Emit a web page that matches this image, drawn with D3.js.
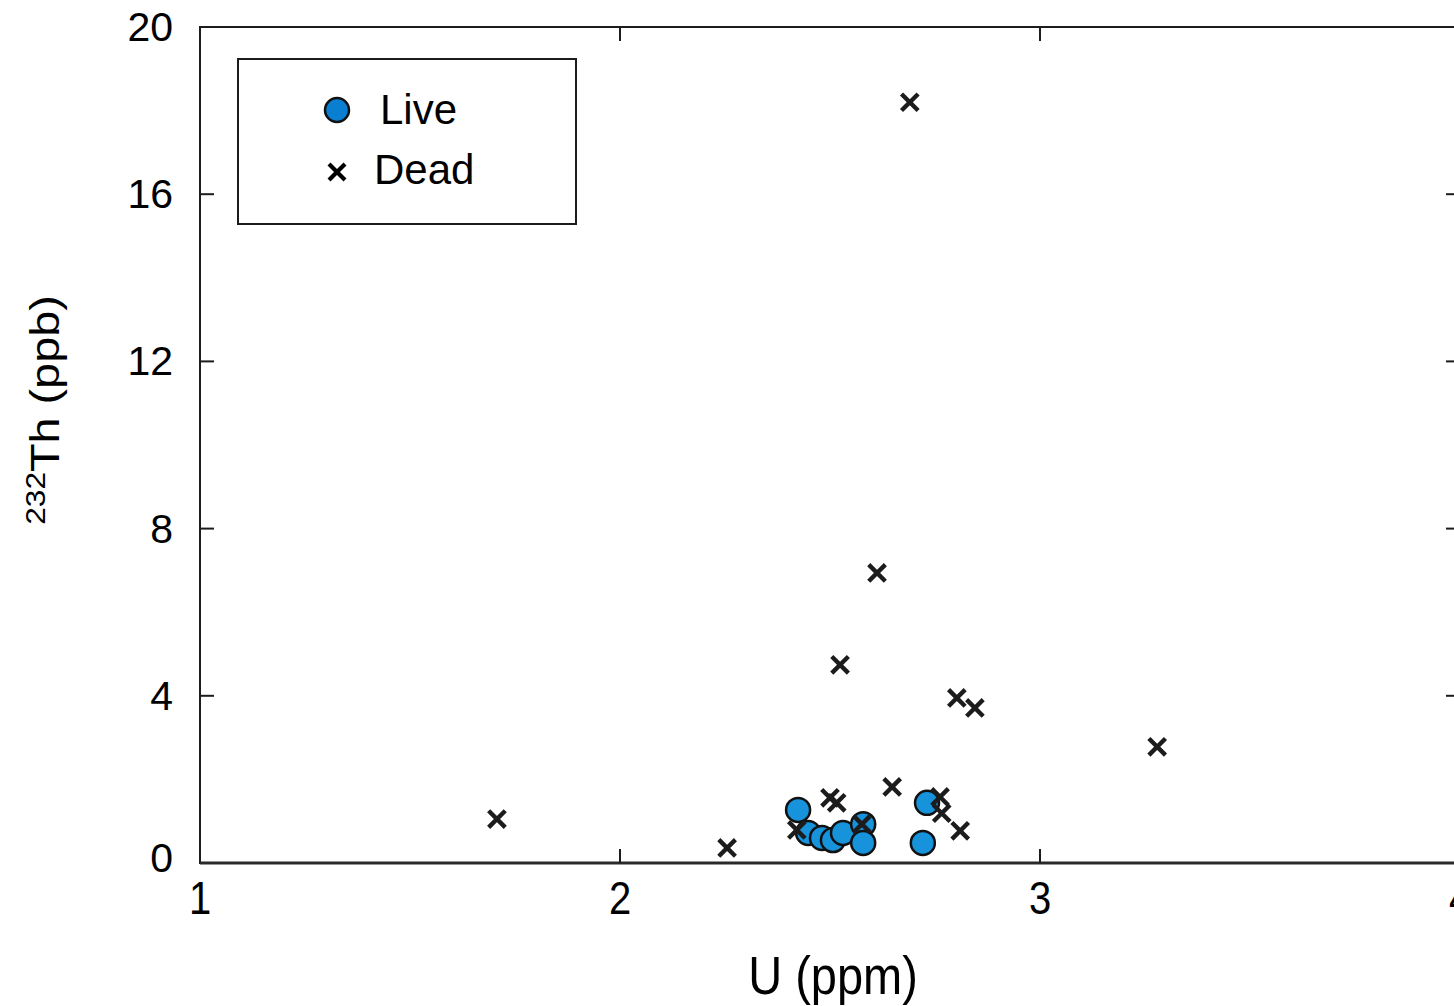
<!DOCTYPE html>
<html>
<head>
<meta charset="utf-8">
<script src="https://cdn.jsdelivr.net/npm/d3@7"></script>
<style>
  html, body { margin: 0; padding: 0; background: #fff; }
  svg { display: block; font-family: "Liberation Sans", Arial, Helvetica, sans-serif; }
</style>
</head>
<body>
<svg id="chart" width="1454" height="1006"></svg>
<script>
// U vs 232Th for live and dead samples
const liveU  = [2.424, 2.448, 2.481, 2.507, 2.531, 2.579, 2.579, 2.731, 2.721];
const liveTh = [1.27, 0.72, 0.60, 0.55, 0.72, 0.93, 0.48, 1.44, 0.48];

const deadU  = [1.707, 2.255, 2.690, 2.612, 2.524, 2.802, 2.845, 3.279, 2.648, 2.500, 2.516, 2.762, 2.766, 2.810, 2.576, 2.421];
const deadTh = [1.05, 0.36, 18.2, 6.94, 4.74, 3.95, 3.71, 2.78, 1.82, 1.56, 1.44, 1.58, 1.19, 0.77, 0.93, 0.79];

const xTicks = [1, 2, 3, 4];
const yTicks = [0, 4, 8, 12, 16, 20];
const seriesNames = ["Live", "Dead"];

const svg = d3.select("#chart");
const plotLeft = 200, plotRight = 1460, plotTop = 27, plotBottom = 863;

const x = d3.scaleLinear().domain([1, 4]).range([plotLeft, plotRight]);
const y = d3.scaleLinear().domain([0, 20]).range([plotBottom, plotTop]);

const ink = "#1c1c1c";
const blue = "#1793dc";

// frame
svg.append("rect")
  .attr("x", plotLeft).attr("y", plotTop)
  .attr("width", plotRight - plotLeft).attr("height", plotBottom - plotTop)
  .attr("fill", "none").attr("stroke", ink).attr("stroke-width", 2);
svg.append("line")
  .attr("x1", plotLeft).attr("x2", plotRight).attr("y1", plotBottom).attr("y2", plotBottom)
  .attr("stroke", "#2a2a2a").attr("stroke-width", 3);

// inward ticks on all four sides
const tickLen = 14;
const innerX = xTicks.filter(t => t > 1 && t < 4);
const innerY = yTicks.filter(t => t > 0 && t < 20);

const ticks = svg.append("g").attr("stroke", ink).attr("stroke-width", 2);
innerX.forEach(t => {
  ticks.append("line").attr("x1", x(t)).attr("x2", x(t)).attr("y1", plotBottom).attr("y2", plotBottom - tickLen);
  ticks.append("line").attr("x1", x(t)).attr("x2", x(t)).attr("y1", plotTop).attr("y2", plotTop + tickLen);
});
innerY.forEach(t => {
  ticks.append("line").attr("x1", plotLeft).attr("x2", plotLeft + tickLen).attr("y1", y(t)).attr("y2", y(t));
  ticks.append("line").attr("x1", plotRight).attr("x2", plotRight - tickLen).attr("y1", y(t)).attr("y2", y(t));
});

// tick labels
svg.append("g").selectAll("text").data(yTicks).join("text")
  .attr("x", 173).attr("y", d => y(d) - (d === 0 ? 5 : 0))
  .attr("text-anchor", "end").attr("dominant-baseline", "central")
  .attr("font-size", 41).attr("fill", "#000")
  .text(d => d);

svg.append("g").selectAll("text").data(xTicks).join("text")
  .attr("transform", d => `translate(${x(d)},914) scale(1,1.17)`)
  .attr("text-anchor", "middle")
  .attr("font-size", 40).attr("fill", "#000")
  .text(d => d);

// axis titles
svg.append("text")
  .attr("transform", "translate(833,994) scale(1,1.15)")
  .attr("text-anchor", "middle")
  .attr("font-size", 47).attr("fill", "#000")
  .text("U (ppm)");

const yTitle = svg.append("text")
  .attr("transform", "translate(59,410) rotate(-90) scale(1.17,1)")
  .attr("text-anchor", "middle")
  .attr("font-size", 40).attr("fill", "#000");
yTitle.append("tspan").attr("font-size", 27).attr("dy", -14).text("232");
yTitle.append("tspan").attr("dy", 14).text("Th (ppb)");

// marker helpers
const cross = (cx, cy, h) => `M${cx - h},${cy - h}L${cx + h},${cy + h}M${cx - h},${cy + h}L${cx + h},${cy - h}`;

const liveData = liveU.map((u, i) => ({ u, th: liveTh[i] }));
const deadData = deadU.map((u, i) => ({ u, th: deadTh[i] }));

// live samples
svg.append("g").selectAll("circle").data(liveData).join("circle")
  .attr("cx", d => x(d.u)).attr("cy", d => y(d.th))
  .attr("r", 12)
  .attr("fill", blue).attr("stroke", "#111").attr("stroke-width", 2.5);

// dead samples
svg.append("g").selectAll("path").data(deadData).join("path")
  .attr("d", d => cross(x(d.u), y(d.th), 8.3))
  .attr("stroke", ink).attr("stroke-width", 4.4).attr("fill", "none");

// legend
const lg = svg.append("g");
lg.append("rect")
  .attr("x", 238).attr("y", 59).attr("width", 338).attr("height", 165)
  .attr("fill", "#fff").attr("stroke", ink).attr("stroke-width", 2);
lg.append("circle").attr("cx", 337).attr("cy", 110).attr("r", 12)
  .attr("fill", "#0a7fd2").attr("stroke", "#111").attr("stroke-width", 2.5);
lg.append("text").attr("x", 380).attr("y", 124).attr("font-size", 42).attr("fill", "#000").text(seriesNames[0]);
lg.append("path").attr("d", cross(337, 172, 8))
  .attr("stroke", "#000").attr("stroke-width", 4.2).attr("fill", "none");
lg.append("text").attr("x", 374).attr("y", 184).attr("font-size", 42).attr("fill", "#000").text(seriesNames[1]);
</script>
</body>
</html>
